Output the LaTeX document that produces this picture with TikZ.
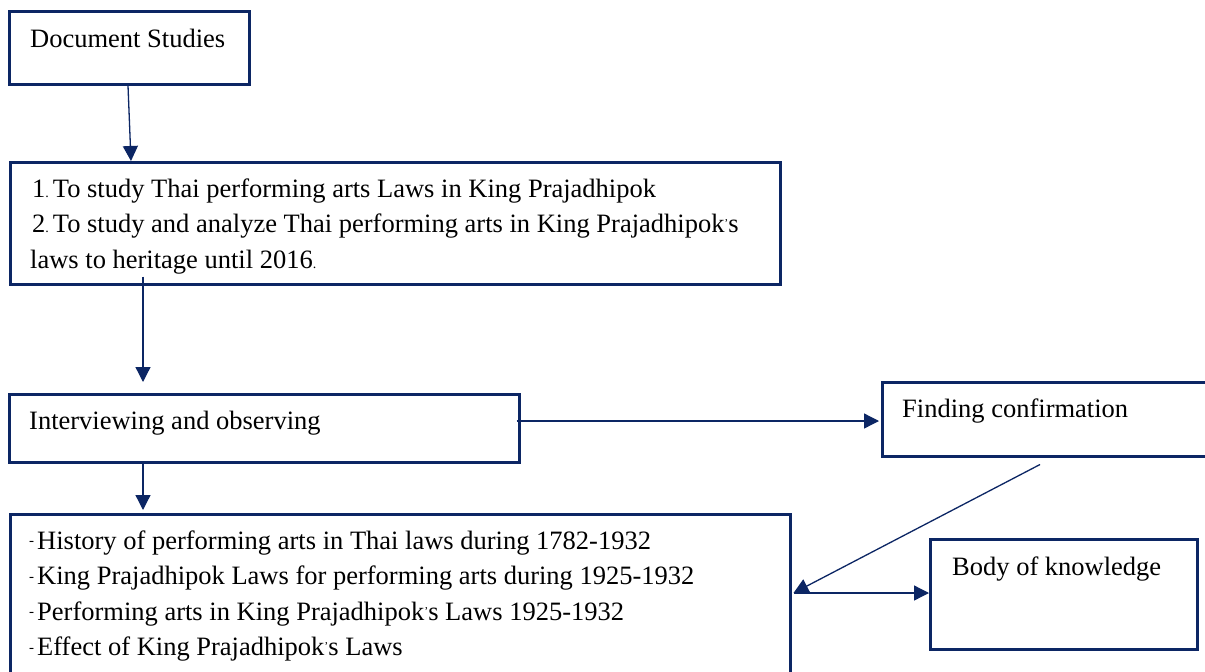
\documentclass[tikz,border=0pt]{standalone}
\usepackage{fontspec}
\setmainfont{Liberation Serif}
\usetikzlibrary{arrows.meta,calc}
\definecolor{navy}{RGB}{12,38,100}
\newcommand{\smdash}{\raisebox{3.5pt}{\fontsize{15}{15}\selectfont -}\hspace{3pt}}
\newcommand{\smdot}{{\fontsize{14}{14}\selectfont .}}
\newcommand{\smapos}{\raisebox{5pt}{\fontsize{12}{12}\selectfont ’}}
\tikzset{
  box/.style={draw=navy, line width=2.5pt, fill=none, inner sep=0pt, anchor=north west, rectangle},
  txt/.style={anchor=base west, inner sep=0pt, font=\fontsize{26.5}{32}\selectfont, text=black},
  conn/.style={draw=navy, line width=1.3pt, -{Triangle[length=15pt,width=15pt]}},
  plain/.style={draw=navy, line width=1.3pt}
}
\begin{document}
\begin{tikzpicture}[x=1pt,y=-1pt]
\useasboundingbox[fill=white] (0,0) rectangle (1205,672);
% boxes
\node[box, minimum width=240pt, minimum height=73pt] (A) at (8,10) {};
\node[box, minimum width=770pt, minimum height=122pt] (B) at (9,161) {};
\node[box, minimum width=510pt, minimum height=68pt] (C) at (8,393) {};
\node[box, minimum width=350pt, minimum height=74pt] (F) at (881,381) {};
\node[box, minimum width=780pt, minimum height=190pt] (D) at (9,513) {};
\node[box, minimum width=267pt, minimum height=110pt] (K) at (929,538) {};
% texts
\node[txt] (ta) at (30,47) {Document Studies};
\node[txt] (tb1) at (32,197.5) {1\smdot\hspace{4pt}To study Thai performing arts Laws in King Prajadhipok};
\node[txt] (tb2) at (32,232.5) {2\smdot\hspace{4pt}To study and analyze Thai performing arts in King Prajadhipok\smapos s};
\node[txt] (tb3) at (30,268) {laws to heritage until 2016\smdot};
\node[txt] (tc) at (29,429) {Interviewing and observing};
\node[txt] (tf) at (902,417.5) {Finding confirmation};
\node[txt] (td1) at (29,549) {\smdash History of performing arts in Thai laws during 1782-1932};
\node[txt] (td2) at (29,584.5) {\smdash King Prajadhipok Laws for performing arts during 1925-1932};
\node[txt] (td3) at (29,620) {\smdash Performing arts in King Prajadhipok\smapos s Laws 1925-1932};
\node[txt] (td4) at (29,655.5) {\smdash Effect of King Prajadhipok\smapos s Laws};
\node[txt] (tk) at (952,575) {Body of knowledge};
% connectors
\coordinate (dp) at ($(D.north east)+(2,80)$);
\draw[conn] ($(A.south west)+(120,0)$) -- ($(B.north west)+(122,0)$);
\draw[conn] ($(B.south west)+(134,-9)$) -- ($(C.north west)+(135,-11)$);
\draw[conn] ($(C.south west)+(135,0)$) -- ($(D.north west)+(134,-3)$);
\draw[conn] ($(C.north east)+(-4,28)$) -- ($(F.north west)+(-2,40)$);
\draw[conn] ($(F.south west)+(159,7)$) -- (dp);
\draw[conn] (dp) -- ($(K.north west)+(0,55)$);
\end{tikzpicture}
\end{document}
